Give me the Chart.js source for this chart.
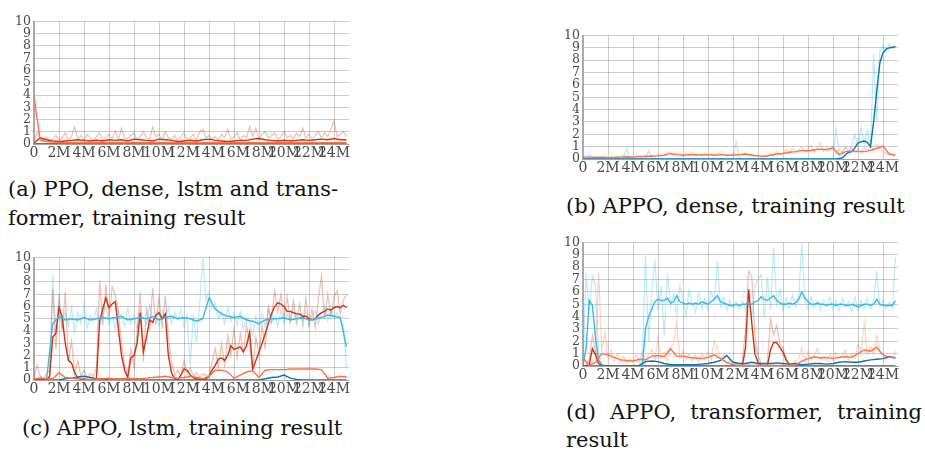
<!DOCTYPE html>
<html>
<head>
<meta charset="utf-8">
<script src="https://cdn.jsdelivr.net/npm/chart.js@4.4.0/dist/chart.umd.min.js"></script>
<style>
  html, body { margin: 0; padding: 0; background: #fff; }
  body { width: 925px; height: 452px; position: relative; overflow: hidden; }
  .box { position: absolute; }
  .cap { position: absolute; font-family: "DejaVu Serif", serif; font-size: 21px; line-height: 26px; color: #111; white-space: nowrap; }
  .just { text-align: justify; text-align-last: justify; }
</style>
</head>
<body>
<div class="box" id="boxA"><canvas id="chartA"></canvas></div>
<div class="box" id="boxB"><canvas id="chartB"></canvas></div>
<div class="box" id="boxC"><canvas id="chartC"></canvas></div>
<div class="box" id="boxD"><canvas id="chartD"></canvas></div>

<div class="cap just" style="left:8px;top:176px;width:330px">(a) PPO, dense, lstm and trans-</div>
<div class="cap" style="left:8px;top:205px">former, training result</div>
<div class="cap" style="left:566px;top:193px">(b) APPO, dense, training result</div>
<div class="cap" style="left:22px;top:415px">(c) APPO, lstm, training result</div>
<div class="cap just" style="left:566px;top:399px;width:356px">(d) APPO, transformer, training</div>
<div class="cap" style="left:566px;top:427px">result</div>

<script>
// sample spacing (millions of steps)
const smoothStep = 0.5;
const rawStep = 0.25;

// tick labels
const yTicks = [0, 1, 2, 3, 4, 5, 6, 7, 8, 9, 10];
const xTickStep = 2;

// (a) PPO, dense / lstm / transformer
const aRedSmooth = [
	0.1, 0.5, 0.35, 0.25, 0.2, 0.25, 0.3, 0.35, 0.3, 0.25,
	0.3, 0.25, 0.35, 0.3, 0.35, 0.25, 0.4, 0.35, 0.3, 0.25,
	0.4, 0.35, 0.3, 0.2, 0.25, 0.3, 0.25, 0.35, 0.4, 0.3,
	0.25, 0.2, 0.25, 0.3, 0.3, 0.4, 0.45, 0.35, 0.3, 0.25,
	0.3, 0.25, 0.3, 0.35, 0.3, 0.35, 0.4, 0.35, 0.45, 0.35,
	0.35];
const aRedRaw = [
	0.3, 0.9, 0.5, 0.3, 0.6, 0.2, 0.4, 0.7, 0.3, 0.5,
	0.9, 0.3, 0.6, 1.4, 0.4, 0.7, 0.3, 0.8, 0.5, 0.3,
	0.6, 0.9, 0.3, 0.5, 0.8, 0.4, 1.1, 0.3, 1.3, 0.5,
	0.4, 0.7, 0.9, 0.3, 0.6, 1.0, 0.5, 0.4, 1.4, 0.6,
	0.8, 0.3, 1.0, 0.5, 0.4, 0.7, 0.3, 0.6, 0.9, 0.4,
	0.5, 0.8, 0.3, 1.0, 1.2, 0.5, 0.7, 0.4, 0.6, 0.3,
	0.8, 0.5, 1.2, 0.4, 0.6, 0.9, 0.3, 0.7, 0.5, 1.4,
	0.6, 1.3, 0.4, 0.8, 1.0, 0.5, 0.7, 0.9, 0.4, 0.6,
	1.0, 0.5, 0.7, 0.4, 0.9, 0.6, 1.3, 0.5, 0.8, 0.4,
	0.7, 1.0, 0.5, 0.9, 0.6, 1.2, 1.9, 0.6, 0.8, 1.0,
	0.6];
const aOrangeSmooth = [
	3.8, 0.3, 0.2, 0.15, 0.12, 0.1, 0.1, 0.1, 0.1, 0.1,
	0.1, 0.1, 0.1, 0.1, 0.1, 0.1, 0.1, 0.1, 0.1, 0.1,
	0.1, 0.1, 0.1, 0.1, 0.1, 0.1, 0.1, 0.1, 0.1, 0.1,
	0.1, 0.1, 0.1, 0.1, 0.1, 0.1, 0.1, 0.1, 0.1, 0.1,
	0.1, 0.1, 0.1, 0.1, 0.1, 0.1, 0.1, 0.1, 0.1, 0.1,
	0.1];
const aBlueSmooth = [
	0, 0, 0, 0, 0, 0, 0, 0, 0, 0,
	0, 0, 0, 0, 0, 0, 0, 0, 0, 0,
	0, 0, 0, 0, 0, 0, 0, 0, 0, 0,
	0, 0, 0, 0, 0, 0, 0, 0, 0, 0,
	0, 0, 0, 0, 0, 0, 0, 0, 0, 0,
	0];
const aCyanSmooth = [
	0, 0, 0, 0, 0, 0, 0, 0, 0, 0,
	0, 0, 0, 0, 0, 0, 0, 0, 0, 0,
	0, 0, 0, 0, 0, 0, 0, 0, 0, 0,
	0, 0, 0, 0, 0, 0, 0, 0, 0, 0,
	0, 0, 0, 0, 0, 0, 0, 0, 0, 0,
	0];

// (b) APPO, dense
const bOrangeSmooth = [
	0.15, 0.15, 0.12, 0.15, 0.1, 0.12, 0.15, 0.18, 0.15, 0.2,
	0.2, 0.22, 0.25, 0.3, 0.45, 0.35, 0.3, 0.35, 0.35, 0.3,
	0.35, 0.3, 0.35, 0.3, 0.3, 0.35, 0.4, 0.3, 0.25, 0.2,
	0.3, 0.4, 0.45, 0.55, 0.6, 0.7, 0.65, 0.75, 0.8, 0.75,
	0.9, 0.35, 0.6, 0.65, 0.6, 0.6, 0.7, 0.85, 1.05, 0.4,
	0.3];
const bOrangeRaw = [
	0.2, 0.1, 0.3, 0.1, 0.2, 0.15, 0.1, 0.25, 0.1, 0.2,
	0.1, 0.25, 0.15, 0.3, 0.1, 0.2, 0.15, 0.3, 0.2, 0.1,
	0.3, 0.2, 0.35, 0.2, 0.4, 0.25, 0.3, 0.6, 0.4, 0.3,
	0.5, 0.3, 0.2, 0.45, 0.3, 0.55, 0.25, 0.4, 0.3, 0.5,
	0.3, 0.45, 0.25, 0.4, 0.6, 0.3, 0.35, 0.25, 0.5, 0.3,
	0.4, 0.3, 0.5, 0.25, 0.4, 0.2, 0.35, 0.15, 0.3, 0.2,
	0.4, 0.25, 0.6, 0.35, 0.5, 0.8, 0.4, 0.9, 0.5, 0.7,
	1.0, 0.6, 0.8, 1.1, 0.5, 0.9, 1.3, 0.6, 1.0, 0.7,
	1.0, 0.4, 0.8, 0.5, 1.0, 0.6, 0.9, 0.5, 0.8, 0.6,
	0.9, 0.7, 1.0, 0.8, 1.2, 0.9, 0.6, 0.4, 0.5, 0.3,
	0.3];
const bBlueSmooth = [
	0, 0, 0, 0, 0, 0, 0, 0, 0, 0,
	0, 0, 0, 0, 0, 0, 0, 0, 0, 0,
	0, 0, 0, 0, 0, 0, 0, 0, 0, 0,
	0, 0, 0, 0, 0, 0, 0, 0, 0, 0,
	0, 0, 0, 0, 0, 0, 0, 0, 0, 0,
	0, 0, 0, 0, 0, 0, 0, 0, 0, 0,
	0, 0, 0, 0, 0, 0, 0, 0, 0, 0,
	0, 0, 0, 0, 0, 0, 0, 0, 0, 0,
	0, 0, 0.05, 0.1, 0.35, 0.55, 0.6, 0.9, 1.3, 1.4,
	1.45, 1.35, 1.0, 3.0, 5.5, 7.8, 8.6, 8.9, 9.0, 9.05,
	9.1];
const bBlueRaw = [
	0, 0, 0, 0, 0, 0, 0, 0, 0, 0,
	0, 0, 0, 0, 0.9, 0, 0, 0, 0, 0,
	0, 0.7, 0, 0, 0, 0, 0, 0, 0, 0,
	0, 0, 0, 0, 0, 0, 0, 0, 0, 0,
	0, 0, 0, 0, 0, 0, 0, 0, 0, 1.4,
	0, 0, 0, 0, 0, 0, 0, 0, 0, 0,
	0, 0, 0, 0, 0, 0, 0, 0, 0, 0,
	0, 0, 0, 0, 0, 0, 0, 0, 0, 0,
	0, 2.5, 0.3, 0.6, 0.9, 0.4, 1.2, 2.0, 0.8, 2.6,
	1.2, 2.3, 1.0, 8.5, 3.0, 8.8, 9.2, 8.7, 9.3, 8.9,
	9.1];

// (c) APPO, lstm
const cCyanSmooth = [
	0, 0, 0, 4.6, 5.2, 4.9, 5.0, 4.9, 5.1, 4.9,
	5.0, 5.1, 5.0, 5.1, 5.2, 4.9, 5.0, 5.1, 5.0, 5.2,
	4.9, 5.1, 5.2, 5.0, 5.1, 5.0, 4.8, 5.0, 6.7, 5.8,
	5.4, 5.2, 5.1, 5.2, 4.9, 4.8, 4.6, 4.9, 5.0, 5.0,
	5.1, 4.9, 5.0, 5.1, 4.9, 5.0, 5.1, 5.3, 5.2, 5.1,
	2.7];
const cCyanRaw = [
	0, 0, 0.3, 0, 0, 0.2, 8.6, 4.0, 6.2, 4.3,
	5.6, 4.4, 5.9, 3.9, 5.5, 4.6, 6.2, 4.2, 5.3, 4.8,
	5.8, 4.3, 5.4, 6.0, 4.5, 5.2, 4.1, 5.7, 5.0, 4.4,
	5.9, 4.6, 5.3, 4.2, 5.8, 5.0, 4.5, 6.1, 4.7, 5.4,
	4.4, 5.7, 5.0, 6.0, 4.6, 5.5, 4.9, 5.8, 4.3, 5.3,
	1.2, 5.4, 3.0, 6.1, 10.0, 6.5, 7.2, 5.8, 6.3, 5.0,
	5.7, 4.6, 5.9, 4.8, 5.4, 4.5, 5.6, 4.2, 5.1, 4.7,
	3.6, 5.2, 4.0, 5.5, 4.3, 5.8, 4.6, 5.2, 4.4, 5.7,
	4.6, 5.5, 4.8, 5.9, 4.5, 5.3, 4.9, 5.6, 4.4, 5.2,
	5.7, 4.6, 5.4, 6.0, 4.8, 5.6, 5.1, 5.5, 4.9, 4.6,
	0.9];
const cRedSmooth = [
	0, 0, 0, 0, 0, 0.3, 3.5, 3.8, 5.9, 5.2,
	3.0, 1.6, 1.4, 0.6, 0.2, 0.05, 0, 0, 0, 0,
	0.1, 4.8, 5.8, 6.7, 5.9, 6.2, 6.4, 4.2, 2.0, 0.8,
	0.2, 1.8, 2.0, 3.0, 5.5, 2.3, 3.5, 4.9, 4.7, 5.3,
	5.5, 5.0, 5.4, 2.0, 0.6, 0.1, 0, 0.4, 0.9, 0.8,
	0.4, 0.2, 0.1, 0.05, 0, 0.1, 0.3, 0.8, 1.2, 1.7,
	1.8, 1.6, 2.0, 2.8, 2.5, 2.6, 2.7, 2.3, 2.8, 3.9,
	0.9, 1.6, 2.3, 3.0, 3.8, 4.6, 5.4, 6.0, 6.3, 6.2,
	6.0, 5.6, 5.6, 5.5, 5.4, 5.4, 5.2, 5.2, 5.0, 4.9,
	5.0, 5.3, 5.5, 5.6, 5.8, 5.7, 5.9, 6.0, 5.9, 6.1,
	5.9];
const cRedRaw = [
	0.2, 1.2, 0.3, 0.1, 0.5, 0.8, 7.4, 2.5, 7.0, 4.0,
	7.2, 1.5, 3.2, 0.5, 1.6, 0.3, 0.8, 0.2, 0.5, 0.3,
	1.0, 8.1, 4.5, 7.8, 5.0, 7.6, 7.0, 5.5, 3.0, 1.2,
	0.5, 2.5, 1.0, 4.0, 7.2, 1.5, 6.0, 4.0, 7.5, 4.5,
	6.8, 4.2, 6.9, 3.5, 1.5, 0.4, 0.8, 0.3, 1.6, 0.5,
	1.0, 0.3, 0.6, 0.2, 0.5, 0.4, 0.2, 1.5, 2.6, 1.0,
	3.0, 1.2, 3.6, 2.0, 4.2, 1.8, 3.8, 2.2, 4.5, 2.8,
	0.8, 3.5, 2.0, 4.5, 2.5, 6.0, 4.8, 7.3, 5.5, 7.0,
	5.0, 6.8, 4.7, 6.5, 4.8, 6.2, 4.4, 6.7, 4.5, 5.8,
	4.3, 6.6, 8.5, 5.0, 7.0, 5.2, 6.8, 7.3, 5.4, 6.5,
	7.0];
const cOrangeSmooth = [
	0.1, 0.15, 0.1, 0.1, 0.6, 0.2, 0.15, 0.1, 0.1, 0.05,
	0.1, 0.1, 0.15, 0.1, 0.1, 0.15, 0.1, 0.1, 0.15, 0.2,
	0.25, 0.3, 0.2, 0.15, 0.2, 0.3, 0.2, 0.1, 0.3, 0.8,
	0.8, 0.65, 0.15, 0.4, 0.65, 0.75, 0.2, 0.8, 0.85, 0.85,
	0.85, 0.9, 0.9, 0.9, 0.9, 0.9, 0.85, 0.15, 0.2, 0.3,
	0.25];
const cBlueSmooth = [
	0, 0, 0, 0, 0, 0.1, 0.15, 0.25, 0.3, 0.2,
	0.1, 0.05, 0, 0, 0, 0, 0, 0, 0, 0,
	0, 0, 0, 0, 0, 0, 0, 0, 0, 0,
	0, 0, 0, 0, 0, 0, 0, 0.1, 0.2, 0.25,
	0.4, 0.15, 0.05, 0, 0, 0, 0, 0, 0, 0,
	0];

// (d) APPO, transformer
const dCyanSmooth = [
	0, 1.5, 5.3, 4.9, 2.3, 0.5, 0.1, 0, 0, 0,
	0, 0, 0, 0, 0, 0, 0, 0, 0, 0,
	3.0, 4.0, 4.6, 5.2, 5.4, 5.3, 5.3, 5.5, 5.1, 5.2,
	5.7, 5.2, 5.1, 5.0, 5.1, 5.0, 5.1, 5.0, 5.2, 5.1,
	5.0, 5.2, 5.4, 5.7, 5.2, 5.1, 5.0, 4.9, 4.9, 5.0,
	4.9, 5.0, 5.0, 5.1, 5.0, 5.2, 5.3, 5.6, 5.4, 5.3,
	5.5, 5.7, 5.3, 5.1, 5.0, 5.0, 5.1, 5.0, 5.1, 5.4,
	6.0, 5.5, 5.2, 5.0, 5.0, 5.1, 5.0, 5.0, 4.9, 5.0,
	5.0, 4.9, 5.0, 5.0, 4.9, 4.9, 5.0, 4.9, 4.8, 4.9,
	5.0, 5.0, 4.9, 5.0, 5.4, 5.0, 4.9, 4.9, 4.9, 4.9,
	5.3];
const dCyanRaw = [
	0, 7.5, 4.5, 7.3, 6.5, 1.0, 0.2, 0, 0, 0,
	0, 0, 0, 0, 0, 0, 0, 0, 0, 0.5,
	9.0, 2.0, 6.0, 8.6, 4.5, 6.5, 2.5, 7.5, 4.8, 5.8,
	4.2, 6.5, 5.5, 4.0, 6.2, 5.0, 4.3, 5.9, 4.6, 5.5,
	4.5, 6.0, 5.3, 8.5, 4.8, 5.6, 4.5, 5.3, 4.7, 5.2,
	4.6, 5.3, 4.5, 5.7, 3.8, 6.5, 7.0, 7.4, 3.9, 7.2,
	4.5, 9.6, 5.0, 6.2, 4.5, 5.5, 4.6, 5.8, 4.8, 5.3,
	10.0, 5.2, 4.6, 5.6, 4.7, 5.3, 4.5, 5.4, 4.9, 5.6,
	4.6, 5.3, 4.5, 5.5, 4.8, 5.2, 4.4, 5.6, 4.5, 5.3,
	4.7, 5.5, 4.6, 5.3, 7.7, 4.8, 5.4, 4.6, 5.2, 4.7,
	8.8];
const dRedSmooth = [
	0, 0, 0.1, 1.4, 0.9, 0.2, 0.05, 0, 0, 0,
	0, 0, 0, 0, 0, 0, 0, 0, 0, 0,
	0, 0, 0, 0, 0, 0, 0, 0, 0, 0,
	0, 0, 0, 0, 0, 0, 0, 0, 0, 0,
	0, 0, 0, 0, 0, 0, 0, 0, 0, 0,
	0, 0, 1.5, 6.2, 3.5, 1.0, 0.3, 0.05, 0, 0,
	1.3, 1.9, 1.9, 1.5, 1.1, 0.5, 0.1, 0, 0, 0,
	0, 0, 0, 0, 0, 0, 0, 0, 0, 0,
	0, 0, 0, 0, 0, 0, 0, 0, 0, 0,
	0, 0, 0, 0, 0, 0, 0, 0, 0, 0,
	0];
const dRedRaw = [
	0, 0, 0.5, 2.5, 1.2, 0.3, 0, 0, 0, 0,
	0, 0, 0, 0, 0, 0, 0, 0, 0, 0,
	0, 0, 0, 0, 0, 0, 0, 0, 0, 0,
	0, 0, 0, 0, 0, 0, 0, 0, 0, 0,
	0, 0, 0, 0, 0, 0, 0, 0, 0, 0,
	0, 0.4, 3.0, 7.7, 7.3, 2.5, 0.8, 0.2, 0, 0.3,
	3.8, 2.5, 3.3, 1.8, 1.5, 0.6, 0.2, 0, 0, 0,
	0, 0, 0, 0, 0, 0, 0, 0, 0, 0,
	0, 0, 0, 0, 0, 0, 0, 0, 0, 0,
	0, 0, 0, 0, 0, 0, 0, 0, 0, 0,
	0];
const dOrangeSmooth = [
	0.7, 0.05, 0.3, 1.0, 0.9, 0.7, 0.5, 0.45, 0.4, 0.55,
	0.5, 0.8, 0.85, 0.75, 1.4, 0.8, 0.8, 0.7, 0.65, 0.6,
	0.7, 0.9, 0.6, 0.3, 0.1, 0.05, 0.05, 0.05, 0.05, 0.05,
	0.05, 0.05, 0.05, 0.05, 0.1, 0.4, 0.6, 0.75, 0.65, 0.7,
	0.6, 0.7, 0.75, 0.7, 1.0, 1.3, 1.2, 1.5, 0.9, 0.7,
	0.7];
const dOrangeRaw = [
	0.9, 0.1, 0.2, 0.3, 0.5, 7.6, 1.2, 2.7, 0.6, 1.3,
	0.4, 1.0, 0.3, 0.8, 0.2, 0.6, 0.3, 0.9, 0.4, 1.2,
	0.3, 0.9, 1.3, 0.5, 2.4, 0.6, 1.1, 0.4, 1.5, 1.8,
	3.7, 0.6, 1.2, 0.5, 1.0, 0.4, 0.9, 0.3, 1.1, 0.5,
	1.2, 0.5, 2.0, 1.4, 0.6, 0.9, 0.2, 0.5, 0.1, 0.2,
	0, 0.1, 0, 0.1, 0, 0, 0.1, 0, 0.1, 0,
	0, 0.1, 0, 0, 0.1, 0, 0, 0.1, 0.3, 0.6,
	1.5, 0.4, 1.2, 0.5, 0.9, 1.4, 0.5, 0.8, 0.4, 1.0,
	0.5, 1.1, 0.6, 0.9, 1.3, 0.4, 1.0, 0.6, 1.8, 1.2,
	3.5, 0.9, 1.6, 1.0, 2.5, 1.1, 1.0, 0.5, 0.8, 0.6,
	1.2];
const dBlueSmooth = [
	0, 0, 0, 0, 0, 0, 0, 0, 0, 0.05,
	0.35, 0.4, 0.35, 0.2, 0.1, 0.1, 0.1, 0.1, 0.1, 0.15,
	0.2, 0.3, 0.45, 0.85, 0.3, 0.2, 0.2, 0.3, 0.2, 0.2,
	0.2, 0.25, 0.2, 0.15, 0.2, 0.1, 0.15, 0.2, 0.2, 0.15,
	0.2, 0.3, 0.35, 0.3, 0.3, 0.4, 0.5, 0.55, 0.6, 0.75,
	0.65];

// TensorBoard run colours
const RED = '#cc3311';
const ORANGE = '#ff7043';
const CYAN = '#33bbee';
const BLUE = '#0077bb';

const AXIS_W = 34;
const AXIS_H = 18;
const PAD_TOP = 8;
const PAD_RIGHT = 6;
const X_MAX = 25.2;

function toPoints(values, step) {
	return values.map((v, i) => ({ x: i * step, y: v }));
}

function fade(hex, a) {
	const n = parseInt(hex.slice(1), 16);
	return `rgba(${(n >> 16) & 255}, ${(n >> 8) & 255}, ${n & 255}, ${a})`;
}

function smooth(values, step, color) {
	return {
		data: toPoints(values, step),
		borderColor: color,
		borderWidth: 1.4,
		pointRadius: 0,
		tension: 0,
		order: 1,
	};
}

function raw(values, step, color) {
	return {
		data: toPoints(values, step),
		borderColor: fade(color, 0.32),
		borderWidth: 1.2,
		pointRadius: 0,
		tension: 0,
		order: 10,
	};
}

function makeChart(boxId, canvasId, area, datasets) {
	// put the plot area exactly where it sits in the figure
	const box = document.getElementById(boxId);
	box.style.left = (area.left - AXIS_W) + 'px';
	box.style.top = (area.top - PAD_TOP) + 'px';
	box.style.width = (area.right - area.left + AXIS_W + PAD_RIGHT) + 'px';
	box.style.height = (area.bottom - area.top + PAD_TOP + AXIS_H) + 'px';

	const serif = '"DejaVu Serif", serif';
	return new Chart(document.getElementById(canvasId), {
		type: 'line',
		data: { datasets: datasets },
		options: {
			responsive: true,
			maintainAspectRatio: false,
			animation: false,
			layout: { padding: { top: PAD_TOP, right: PAD_RIGHT, left: 0, bottom: 0 } },
			plugins: { legend: { display: false }, tooltip: { enabled: false } },
			scales: {
				x: {
					type: 'linear',
					min: 0,
					max: X_MAX,
					afterFit: (scale) => { scale.height = AXIS_H; },
					grid: { color: 'rgba(0,0,0,0.2)', lineWidth: 1, drawTicks: false },
					border: { color: 'rgba(0,0,0,0.2)' },
					ticks: {
						stepSize: xTickStep,
						includeBounds: false,
						autoSkip: false,
						maxRotation: 0,
						minRotation: 0,
						padding: 1,
						color: '#4a4a4a',
						font: { family: serif, size: 14 },
						callback: (v) => (v === 0 ? '0' : v + 'M'),
					},
				},
				y: {
					min: yTicks[0],
					max: yTicks[yTicks.length - 1],
					afterFit: (scale) => { scale.width = AXIS_W; },
					grid: { color: 'rgba(0,0,0,0.2)', lineWidth: 1, drawTicks: false },
					border: { color: '#aaaaaa', width: 2 },
					ticks: {
						stepSize: 1,
						autoSkip: false,
						padding: 3,
						color: '#4a4a4a',
						font: { family: serif, size: 12.5 },
					},
				},
			},
		},
	});
}

makeChart('boxA', 'chartA', { left: 34, top: 19, right: 349, bottom: 144 }, [
	raw(aRedRaw, rawStep, RED),
	smooth(aOrangeSmooth, smoothStep, ORANGE),
	smooth(aRedSmooth, smoothStep, RED),
	smooth(aBlueSmooth, smoothStep, BLUE),
	smooth(aCyanSmooth, smoothStep, CYAN),
]);

makeChart('boxB', 'chartB', { left: 583, top: 33, right: 898, bottom: 159 }, [
	raw(bOrangeRaw, rawStep, ORANGE),
	raw(bBlueRaw, rawStep, CYAN),
	smooth(bOrangeSmooth, smoothStep, ORANGE),
	smooth(bBlueSmooth, rawStep, BLUE),
]);

makeChart('boxC', 'chartC', { left: 34, top: 255, right: 349, bottom: 380 }, [
	raw(cRedRaw, rawStep, RED),
	raw(cCyanRaw, rawStep, CYAN),
	smooth(cOrangeSmooth, smoothStep, ORANGE),
	smooth(cBlueSmooth, smoothStep, BLUE),
	smooth(cCyanSmooth, smoothStep, CYAN),
	smooth(cRedSmooth, rawStep, RED),
]);

makeChart('boxD', 'chartD', { left: 583, top: 240, right: 898, bottom: 366 }, [
	raw(dOrangeRaw, rawStep, ORANGE),
	raw(dRedRaw, rawStep, RED),
	raw(dCyanRaw, rawStep, CYAN),
	smooth(dOrangeSmooth, smoothStep, ORANGE),
	smooth(dBlueSmooth, smoothStep, BLUE),
	smooth(dCyanSmooth, rawStep, CYAN),
	smooth(dRedSmooth, rawStep, RED),
]);
</script>
</body>
</html>
